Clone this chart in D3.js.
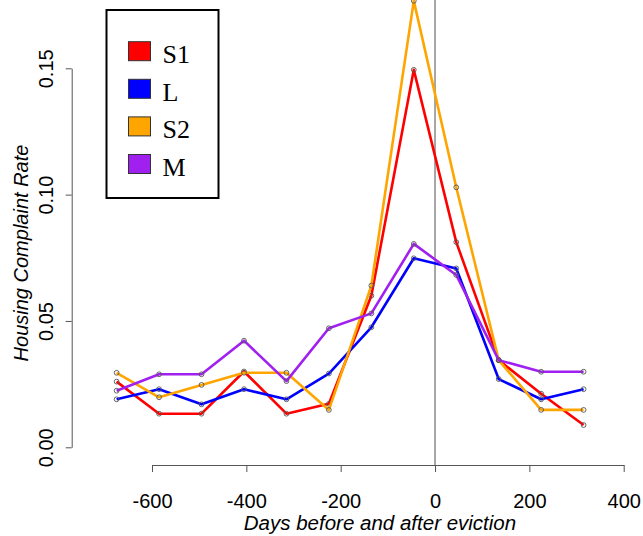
<!DOCTYPE html>
<html>
<head>
<meta charset="utf-8">
<script src="https://cdn.jsdelivr.net/npm/d3@7"></script>
<style>
  body { margin: 0; background: #fff; }
  svg { display: block; }
</style>
</head>
<body>
<svg width="643" height="536"></svg>
<script>
// days relative to eviction (bin centres)
const days = [-675, -585, -495, -405, -315, -225, -135, -45, 45, 135, 225, 315];

const s1 = [0.0260, 0.0133, 0.0133, 0.0300, 0.0133, 0.0172, 0.0600, 0.1494, 0.0812, 0.0345, 0.0212, 0.0088];
const L  = [0.0190, 0.0230, 0.0170, 0.0230, 0.0190, 0.0292, 0.0475, 0.0748, 0.0708, 0.0270, 0.0190, 0.0230];
const s2 = [0.0295, 0.0198, 0.0247, 0.0295, 0.0295, 0.0148, 0.0640, 0.1767, 0.1029, 0.0345, 0.0148, 0.0148];
const M  = [0.0224, 0.0289, 0.0289, 0.0422, 0.0262, 0.0471, 0.0530, 0.0805, 0.0682, 0.0345, 0.0299, 0.0299];

const seriesNames = ['S1', 'L', 'S2', 'M'];
const seriesValues = [s1, L, s2, M];
const seriesColors = ['#ff0000', '#0000ff', '#ffa500', '#a020f0'];

const xTicks = [-600, -400, -200, 0, 200, 400];
const yTicks = [0, 0.05, 0.10, 0.15];

const svg = d3.select('svg');

const x = d3.scaleLinear().domain([-600, 400]).range([152, 623.7]);
const y = d3.scaleLinear().domain([0, 0.15]).range([447.3, 68.3]);

const axisY0 = 465;   // x axis line
const axisX0 = 71.7;  // y axis line

// vertical line at eviction
svg.append('line')
  .attr('x1', x(0)).attr('x2', x(0))
  .attr('y1', 0).attr('y2', axisY0)
  .attr('stroke', '#777').attr('stroke-width', 1.3);

// x axis
const xAxis = svg.append('g')
  .attr('transform', `translate(0,${axisY0})`)
  .call(d3.axisBottom(x).tickValues(xTicks).tickSize(7).tickSizeOuter(0).tickFormat(d3.format('d')));
xAxis.selectAll('path, line').attr('stroke', '#555');
xAxis.selectAll('text')
  .attr('font-family', 'Liberation Sans, Arial, sans-serif')
  .attr('font-size', 20).attr('fill', '#000')
  .attr('dy', 0).attr('y', 42.5);
xAxis.selectAll('text').text(d => d < 0 ? '-' + Math.abs(d) : d);

// y axis
const yAxis = svg.append('g')
  .attr('transform', `translate(${axisX0},0)`)
  .call(d3.axisLeft(y).tickValues(yTicks).tickSize(6).tickSizeOuter(0).tickFormat(d3.format('.2f')));
yAxis.selectAll('path, line').attr('stroke', '#555');
yAxis.selectAll('text')
  .attr('font-family', 'Liberation Sans, Arial, sans-serif')
  .attr('font-size', 20).attr('fill', '#000')
  .attr('x', null).attr('dy', null)
  .attr('text-anchor', 'middle')
  .attr('transform', 'translate(-18.5,0) rotate(-90)');

// axis titles
svg.append('text')
  .attr('x', 380).attr('y', 529.5)
  .attr('text-anchor', 'middle')
  .attr('font-family', 'Liberation Sans, Arial, sans-serif')
  .attr('font-style', 'italic').attr('font-size', 20.5)
  .text('Days before and after eviction');

svg.append('text')
  .attr('transform', 'translate(28,253) rotate(-90)')
  .attr('text-anchor', 'middle')
  .attr('font-family', 'Liberation Sans, Arial, sans-serif')
  .attr('font-style', 'italic').attr('font-size', 20)
  .text('Housing Complaint Rate');

// lines + points
const line = d3.line().x((d, i) => x(days[i])).y(d => y(d));

seriesValues.forEach((vals, k) => {
  svg.append('path')
    .datum(vals)
    .attr('d', line)
    .attr('fill', 'none')
    .attr('stroke', seriesColors[k])
    .attr('stroke-width', 2.6)
    .attr('stroke-linejoin', 'round');
  svg.append('g').selectAll('circle').data(vals).join('circle')
    .attr('cx', (d, i) => x(days[i]))
    .attr('cy', d => y(d))
    .attr('r', 2.4)
    .attr('fill', 'none')
    .attr('stroke', '#555')
    .attr('stroke-width', 0.9);
});

// legend
const legend = svg.append('g');
legend.append('rect')
  .attr('x', 106.5).attr('y', 10).attr('width', 112).attr('height', 188)
  .attr('fill', '#fff').attr('stroke', '#000').attr('stroke-width', 2);

const rows = legend.selectAll('g.row').data(seriesNames).join('g')
  .attr('class', 'row')
  .attr('transform', (d, i) => `translate(0,${51.2 + i * 37.6})`);
rows.append('rect')
  .attr('x', 128.5).attr('y', -9.5).attr('width', 22).attr('height', 19)
  .attr('fill', (d, i) => seriesColors[i])
  .attr('stroke', '#333').attr('stroke-width', 1);
rows.append('text')
  .attr('x', 162.5).attr('y', 12)
  .attr('font-family', 'Liberation Serif, Times New Roman, serif')
  .attr('font-size', 26)
  .text(d => d);
</script>
</body>
</html>
